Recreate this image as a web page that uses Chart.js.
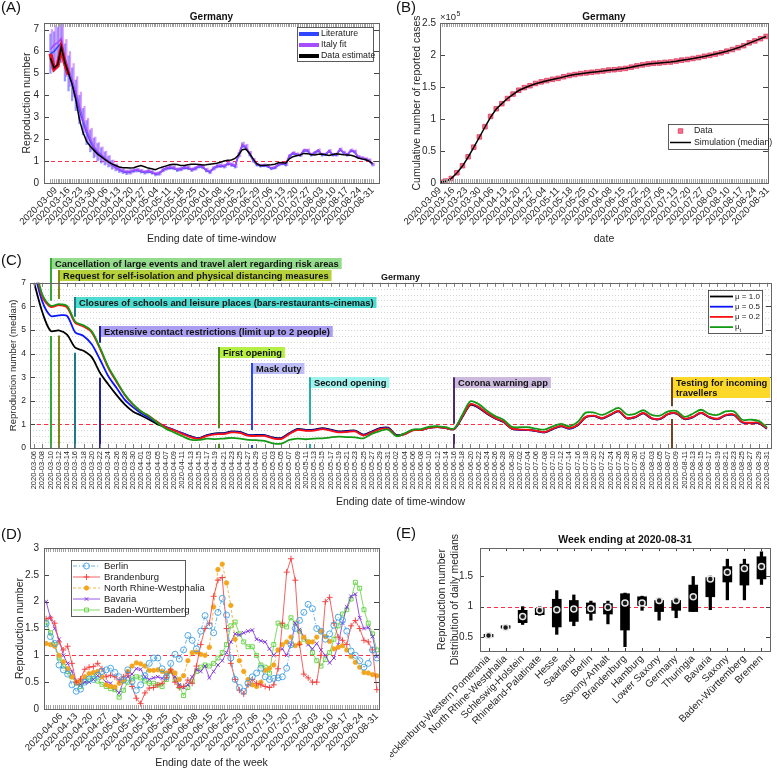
<!DOCTYPE html>
<html>
<head>
<meta charset="utf-8">
<script src="https://cdn.jsdelivr.net/npm/chart.js@4.4.1/dist/chart.umd.min.js"></script>
<style>
  body { margin: 0; background: #fff; }
  #page { position: relative; width: 777px; height: 769px; overflow: hidden; font-family: "Liberation Sans", Arial, sans-serif; }
  canvas { position: absolute; }
  .tag { position: absolute; font-size: 15px; color: #111; }
</style>
</head>
<body>
<div id="page">
  <canvas id="chartA" width="390" height="250" style="left:0;top:0"></canvas>
  <canvas id="chartB" width="387" height="250" style="left:390px;top:0"></canvas>
  <canvas id="chartC" width="777" height="262" style="left:0;top:250px"></canvas>
  <canvas id="chartD" width="390" height="257" style="left:0;top:512px"></canvas>
  <canvas id="chartE" width="387" height="257" style="left:390px;top:512px"></canvas>
  <div class="tag" style="left:1px;top:-2px">(A)</div>
  <div class="tag" style="left:396px;top:-2px">(B)</div>
  <div class="tag" style="left:1px;top:251px">(C)</div>
  <div class="tag" style="left:1px;top:525px">(D)</div>
  <div class="tag" style="left:396px;top:524px">(E)</div>
</div>
<script>
// ---- data ----
const windowDates = ['2020-03-06','2020-03-08','2020-03-10','2020-03-12','2020-03-14','2020-03-16','2020-03-18','2020-03-20','2020-03-22','2020-03-24','2020-03-26','2020-03-28','2020-03-30',
  '2020-04-01','2020-04-03','2020-04-05','2020-04-07','2020-04-09','2020-04-11','2020-04-13','2020-04-15','2020-04-17','2020-04-19','2020-04-21','2020-04-23','2020-04-25','2020-04-27','2020-04-29',
  '2020-05-01','2020-05-03','2020-05-05','2020-05-07','2020-05-09','2020-05-11','2020-05-13','2020-05-15','2020-05-17','2020-05-19','2020-05-21','2020-05-23','2020-05-25','2020-05-27','2020-05-29','2020-05-31',
  '2020-06-02','2020-06-04','2020-06-06','2020-06-08','2020-06-10','2020-06-12','2020-06-14','2020-06-16','2020-06-18','2020-06-20','2020-06-22','2020-06-24','2020-06-26','2020-06-28','2020-06-30',
  '2020-07-02','2020-07-04','2020-07-06','2020-07-08','2020-07-10','2020-07-12','2020-07-14','2020-07-16','2020-07-18','2020-07-20','2020-07-22','2020-07-24','2020-07-26','2020-07-28','2020-07-30',
  '2020-08-01','2020-08-03','2020-08-05','2020-08-07','2020-08-09','2020-08-11','2020-08-13','2020-08-15','2020-08-17','2020-08-19','2020-08-21','2020-08-23','2020-08-25','2020-08-27','2020-08-29','2020-08-31'];

const weekTicks = ['2020-03-09','2020-03-16','2020-03-23','2020-03-30','2020-04-06','2020-04-13','2020-04-20','2020-04-27','2020-05-04','2020-05-11','2020-05-18','2020-05-25','2020-06-01',
  '2020-06-08','2020-06-15','2020-06-22','2020-06-29','2020-07-06','2020-07-13','2020-07-20','2020-07-27','2020-08-03','2020-08-10','2020-08-17','2020-08-24','2020-08-31'];
const dWeekTicks = weekTicks.slice(4);

// (A) reproduction number, Germany
const aEstimate = [5.7,5.25,5.4,6.2,5.5,5.0,4.5,3.8,2.9,2.3,
  1.9,1.68,1.5,1.32,1.2,1.08,0.96,0.87,0.8,0.73,
  0.7,0.7,0.69,0.7,0.75,0.8,0.74,0.68,0.65,0.61,
  0.68,0.73,0.78,0.83,0.86,0.84,0.8,0.8,0.83,0.85,
  0.86,0.84,0.82,0.83,0.86,0.88,0.9,0.95,1.0,1.04,
  1.05,1.12,1.28,1.52,1.55,1.35,1.1,0.88,0.8,0.8,
  0.82,0.83,0.86,0.92,0.94,0.9,1.1,1.2,1.24,1.28,
  1.35,1.34,1.3,1.28,1.31,1.32,1.29,1.26,1.3,1.33,
  1.31,1.29,1.28,1.27,1.22,1.14,1.1,1.07,1.0,0.9];
const aEstimateBand = [5.9,5.2,5.35,6.15,5.45,4.95];
const aItalyFit = [6.1,6.3,6.4,6.6,5.7,5.2,4.7,4.15,3.5,2.9,
  2.4,2.0,1.65,1.45,1.3,1.15,1.0,0.85,0.72,0.62,
  0.55,0.5,0.52,0.58,0.6,0.55,0.5,0.55,0.5,0.42,
  0.45,0.6,0.68,0.72,0.7,0.62,0.65,0.72,0.7,0.62,
  0.68,0.78,0.75,0.6,0.52,0.68,0.78,0.8,0.78,0.9,
  0.85,0.78,1.3,1.75,1.65,1.35,1.05,0.85,0.8,0.82,
  0.78,0.68,0.72,0.85,0.9,0.85,1.25,1.38,1.32,1.28,
  1.5,1.5,1.3,1.4,1.5,1.3,1.32,1.48,1.3,1.3,
  1.55,1.4,1.3,1.5,1.45,1.2,1.15,1.1,1.05,0.85];
const aLiterature = [5.9,6.0,6.2,6.4,5.5,5.0,4.5,4.0,3.35,2.8,
  2.3,1.92,1.6,1.4,1.26,1.12,0.98,0.83,0.7,0.6,
  0.53,0.48,0.5,0.56,0.58,0.53,0.48,0.53,0.48,0.4,
  0.43,0.58,0.66,0.7,0.68,0.6,0.63,0.7,0.68,0.6,
  0.66,0.76,0.73,0.58,0.5,0.66,0.76,0.78,0.76,0.88,
  0.83,0.76,1.28,1.72,1.62,1.33,1.03,0.83,0.78,0.8,
  0.76,0.66,0.7,0.83,0.88,0.83,1.22,1.35,1.3,1.26,
  1.47,1.47,1.28,1.38,1.47,1.28,1.3,1.45,1.28,1.28,
  1.52,1.38,1.28,1.47,1.42,1.18,1.13,1.08,1.03,0.83];
const aSpread = [0.9,0.9,0.9,0.9,0.85,0.8,0.75,0.7,0.65,0.6,
  0.55,0.5,0.45,0.4,0.35,0.3,0.25,0.2,0.15,0.12,
  0.1,0.1,0.1,0.08,0.08,0.08,0.08,0.08,0.08,0.08,
  0.08,0.08,0.08,0.08,0.08,0.08,0.08,0.08,0.08,0.08,
  0.08,0.08,0.08,0.08,0.08,0.08,0.08,0.08,0.08,0.08,
  0.08,0.08,0.1,0.12,0.12,0.1,0.08,0.06,0.06,0.06,
  0.06,0.06,0.06,0.06,0.06,0.06,0.06,0.06,0.06,0.06,
  0.06,0.06,0.06,0.06,0.06,0.06,0.06,0.06,0.06,0.06,
  0.06,0.06,0.06,0.06,0.06,0.06,0.06,0.06,0.06,0.06];
const aYTicks = [0,1,2,3,4,5,6,7];

// (B) cumulative reported cases
const bDates = ['2020-03-09','2020-03-12','2020-03-15','2020-03-18','2020-03-21','2020-03-24','2020-03-27','2020-03-30','2020-04-02','2020-04-05',
  '2020-04-08','2020-04-11','2020-04-14','2020-04-17','2020-04-20','2020-04-23','2020-04-26','2020-04-29','2020-05-02','2020-05-05',
  '2020-05-08','2020-05-11','2020-05-14','2020-05-17','2020-05-20','2020-05-23','2020-05-26','2020-05-29','2020-06-01','2020-06-04',
  '2020-06-07','2020-06-10','2020-06-13','2020-06-16','2020-06-19','2020-06-22','2020-06-25','2020-06-28','2020-07-01','2020-07-04',
  '2020-07-07','2020-07-10','2020-07-13','2020-07-16','2020-07-19','2020-07-22','2020-07-25','2020-07-28','2020-07-31','2020-08-03',
  '2020-08-06','2020-08-09','2020-08-12','2020-08-15','2020-08-18','2020-08-21','2020-08-24','2020-08-27','2020-08-30'];
const bCases = [1200,3000,7000,16000,27000,41000,56000,72000,88000,104000,
  116000,124000,132000,139000,145000,149000,152000,155500,158000,160000,
  162000,163500,166000,168000,169500,171000,172000,173000,174000,175000,
  176500,177000,178000,179000,181000,183000,184500,186000,187000,187500,
  188500,189000,190500,192000,193000,194500,196000,198000,199500,201500,
  203500,206000,208500,211500,214500,219000,222000,225500,229000];
const bSimulation = [1000,2800,6800,15500,26500,40500,55500,71500,87500,103000,
  115500,124000,132000,138500,144500,148500,152000,155000,157500,159800,
  161800,163500,165800,167800,169400,170800,171900,173000,174000,175000,
  176200,177000,178000,179200,181000,182900,184400,185800,186800,187600,
  188400,189200,190400,191800,193000,194400,196000,197800,199500,201400,
  203500,205800,208400,211200,214600,218600,222000,225600,229000];
const bYTicks = [0,50000,100000,150000,200000,250000];

// (C) median reproduction number for different mu
const cMu10 = [7.0,5.75,4.96,4.98,4.8,4.25,4.12,3.85,3.19,2.7,
  2.25,1.85,1.55,1.38,1.2,1.0,0.88,0.75,0.62,0.5,
  0.42,0.55,0.62,0.63,0.7,0.68,0.56,0.55,0.55,0.45,
  0.42,0.63,0.81,0.77,0.78,0.84,0.78,0.7,0.72,0.74,
  0.57,0.7,0.84,0.86,0.55,0.6,0.77,0.77,0.86,0.9,
  0.85,0.8,1.3,1.82,1.7,1.45,1.25,1.1,0.82,0.77,
  0.76,0.72,0.66,0.8,0.92,0.82,0.95,1.3,1.35,1.25,
  1.4,1.55,1.25,1.3,1.47,1.25,1.22,1.43,1.46,1.22,
  1.3,1.48,1.3,1.22,1.38,1.4,1.08,1.05,1.05,0.82];
const cMu05 = [7.5,6.2,5.6,5.62,5.6,4.9,4.75,4.4,3.75,3.05,
  2.55,2.05,1.73,1.47,1.27,1.07,0.9,0.77,0.63,0.48,
  0.41,0.53,0.6,0.61,0.68,0.66,0.54,0.53,0.53,0.43,
  0.4,0.61,0.79,0.75,0.76,0.82,0.76,0.68,0.7,0.72,
  0.55,0.68,0.82,0.84,0.53,0.59,0.76,0.76,0.85,0.89,
  0.84,0.8,1.32,1.85,1.72,1.47,1.26,1.11,0.82,0.77,
  0.76,0.72,0.66,0.81,0.93,0.82,0.96,1.31,1.36,1.26,
  1.41,1.56,1.26,1.31,1.48,1.26,1.23,1.44,1.47,1.23,
  1.31,1.49,1.31,1.23,1.39,1.41,1.09,1.06,1.06,0.83];
const cMu02 = [7.8,6.4,5.98,6.05,5.95,5.3,5.15,4.9,4.2,3.4,
  2.8,2.25,1.84,1.55,1.34,1.1,0.88,0.75,0.6,0.46,
  0.39,0.51,0.58,0.59,0.66,0.64,0.52,0.51,0.51,0.41,
  0.38,0.59,0.77,0.73,0.74,0.8,0.74,0.66,0.68,0.7,
  0.53,0.66,0.8,0.82,0.52,0.58,0.75,0.76,0.85,0.89,
  0.84,0.8,1.33,1.86,1.74,1.48,1.27,1.12,0.83,0.78,
  0.77,0.73,0.67,0.82,0.94,0.84,0.97,1.32,1.37,1.27,
  1.42,1.57,1.27,1.32,1.49,1.27,1.24,1.45,1.48,1.24,
  1.32,1.5,1.32,1.24,1.4,1.42,1.1,1.07,1.07,0.84];
const cMuT = [7.9,6.5,6.03,6.1,6.02,5.35,5.2,4.95,4.25,3.45,
  2.85,2.28,1.86,1.55,1.34,1.06,0.82,0.66,0.5,0.36,
  0.34,0.4,0.38,0.4,0.43,0.4,0.34,0.33,0.3,0.2,
  0.18,0.34,0.4,0.37,0.4,0.41,0.45,0.48,0.46,0.45,
  0.41,0.6,0.72,0.78,0.5,0.62,0.78,0.8,0.9,0.92,
  0.88,0.82,1.4,1.98,1.86,1.58,1.35,1.2,0.9,0.88,
  0.88,0.82,0.78,0.92,1.02,0.92,1.1,1.5,1.5,1.4,
  1.55,1.7,1.42,1.45,1.6,1.4,1.37,1.55,1.57,1.32,
  1.45,1.62,1.45,1.4,1.55,1.55,1.2,1.2,1.15,0.88];
const cYTicks = [0,1,2,3,4,5,6,7];

const eventDates = ['2020-03-10','2020-03-12','2020-03-16','2020-03-22','2020-04-20','2020-04-28','2020-05-12','2020-06-16','2020-08-08'];
const eventLabels = [
  ['Cancellation of large events and travel alert regarding risk areas'],
  ['Request for self-isolation and physical distancing measures'],
  ['Closures of schools and leisure places (bars-restaurants-cinemas)'],
  ['Extensive contact restrictions (limit up to 2 people)'],
  ['First opening'],
  ['Mask duty'],
  ['Second opening'],
  ['Corona warning app'],
  ['Testing for incoming', 'travellers']
];
// label placement (y value of the box top) and colours
const eventLevels = [8.05, 7.54, 6.4, 5.17, 4.28, 3.6, 3.0, 3.0, 3.0];
const eventBoxColors = ['#93dc8c','#b6d23a','#4cdcd2','#aa9ef2','#b6ef44','#bcbcf6','#9ff2ee','#cbb9de','#fcd928'];
const eventLineColors = ['#35a935','#7e8a14','#1e7b82','#23239c','#4c8a1c','#2346ff','#27aea6','#4b2b6e','#6b4525'];

// (D) weekly reproduction number by state
const dDates = ['2020-03-30','2020-04-01','2020-04-03','2020-04-05','2020-04-07','2020-04-09','2020-04-11','2020-04-13','2020-04-15','2020-04-17',
  '2020-04-19','2020-04-21','2020-04-23','2020-04-25','2020-04-27','2020-04-29','2020-05-01','2020-05-03','2020-05-05','2020-05-07',
  '2020-05-09','2020-05-11','2020-05-13','2020-05-15','2020-05-17','2020-05-19','2020-05-21','2020-05-23','2020-05-25','2020-05-27',
  '2020-05-29','2020-05-31','2020-06-02','2020-06-04','2020-06-06','2020-06-08','2020-06-10','2020-06-12','2020-06-14','2020-06-16',
  '2020-06-18','2020-06-20','2020-06-22','2020-06-24','2020-06-26','2020-06-28','2020-06-30','2020-07-02','2020-07-04','2020-07-06',
  '2020-07-08','2020-07-10','2020-07-12','2020-07-14','2020-07-16','2020-07-18','2020-07-20','2020-07-22','2020-07-24','2020-07-26',
  '2020-07-28','2020-07-30','2020-08-01','2020-08-03','2020-08-05','2020-08-07','2020-08-09','2020-08-11','2020-08-13','2020-08-15',
  '2020-08-17','2020-08-19','2020-08-21','2020-08-23','2020-08-25','2020-08-27','2020-08-29','2020-08-31'];
const dBerlin = [1.59,1.35,1.22,0.82,0.73,0.65,0.45,0.33,0.37,0.5,
  0.56,0.55,0.63,0.7,0.73,0.76,0.68,0.6,0.54,0.73,
  0.51,0.35,0.45,0.62,0.85,0.95,0.95,0.75,0.6,0.85,
  1.02,0.93,1.1,1.37,1.28,1.12,1.45,1.74,1.55,1.42,
  1.8,2.06,1.75,0.95,0.55,0.4,0.33,0.48,0.6,0.67,
  0.76,0.6,0.55,0.57,0.58,0.6,0.76,1.2,1.5,1.65,
  1.8,1.95,1.87,1.5,1.45,1.3,1.4,1.56,1.71,1.65,
  1.45,1.08,1.0,0.9,0.78,0.85,1.1,0.95];
const dBrandenburg = [1.68,1.7,1.6,1.25,1.1,1.17,0.85,0.5,0.56,0.74,
  0.78,0.79,0.85,0.75,0.6,0.63,0.6,0.54,0.6,0.67,
  0.42,0.2,0.1,0.3,0.39,0.4,0.45,0.48,0.58,0.73,
  0.5,0.4,0.42,0.54,0.48,0.8,1.2,1.5,1.6,2.1,
  2.4,2.45,1.5,0.85,0.55,0.35,0.28,0.45,0.55,0.48,
  0.45,0.42,0.4,0.45,0.75,1.6,2.55,2.8,2.4,1.2,
  0.65,0.58,0.5,0.5,1.0,2.0,2.08,1.6,1.34,1.28,
  1.2,1.55,1.65,1.5,1.28,1.25,1.1,0.36];
const dNRW = [1.22,1.2,1.17,1.0,0.88,0.75,0.6,0.5,0.52,0.6,
  0.66,0.68,0.7,0.6,0.45,0.42,0.41,0.48,0.52,0.7,
  0.8,0.86,0.84,0.8,0.72,0.72,0.73,0.7,0.67,0.72,
  0.67,0.55,0.62,0.9,1.05,1.06,1.02,1.0,1.15,1.9,
  2.6,2.7,2.35,1.93,1.3,0.9,0.7,0.55,0.45,0.42,
  0.5,0.72,0.76,0.82,1.1,1.2,1.25,1.34,1.18,1.22,
  1.34,1.25,1.25,1.34,1.45,1.35,1.26,1.12,1.15,1.18,
  1.1,0.98,0.87,0.78,0.68,0.67,0.64,0.62];
const dBavaria = [2.0,1.7,1.5,1.3,1.0,0.85,0.7,0.48,0.46,0.5,
  0.5,0.55,0.62,0.58,0.5,0.48,0.38,0.3,0.52,0.6,
  0.65,0.75,0.74,0.6,0.55,0.58,0.6,0.57,0.65,0.7,
  0.6,0.45,0.4,0.45,0.6,0.73,0.7,0.8,0.58,0.7,
  0.82,0.9,1.05,1.25,1.4,1.38,1.42,1.45,1.47,1.3,
  1.27,1.25,1.12,1.0,1.1,1.12,1.0,1.2,1.6,1.48,
  1.35,1.2,1.12,1.22,1.1,1.0,0.86,0.95,1.2,1.6,
  1.9,2.1,2.14,1.7,1.5,1.52,1.35,0.98];
const dBadenWuerttemberg = [1.62,1.42,1.2,0.95,0.8,0.7,0.6,0.48,0.42,0.52,
  0.54,0.6,0.52,0.46,0.42,0.38,0.36,0.22,0.35,0.5,
  0.56,0.6,0.58,0.52,0.48,0.48,0.45,0.42,0.55,0.7,
  0.55,0.42,0.25,0.4,0.52,0.7,0.78,0.82,0.8,0.85,
  0.95,1.05,1.2,1.55,1.62,1.4,1.25,1.16,1.16,1.0,
  0.82,0.78,0.67,1.2,1.6,1.56,1.53,1.7,1.6,1.45,
  1.3,1.25,1.05,0.9,0.8,0.92,1.05,1.3,1.55,1.77,
  1.85,2.05,2.36,2.25,1.85,1.6,1.4,1.1];
const dYTicks = [0,0.5,1,1.5,2,2.5,3];

// (E) distribution of daily medians, week ending 2020-08-31
const eStates = ['Mecklenburg-Western Pomerania','North Rhine-Westphalia','Schleswig-Holstein','Rhineland-Palatinate','Hesse','Saarland','Berlin','Saxony-Anhalt',
  'Brandenburg','Hamburg','Lower Saxony','Germany','Thuringia','Bavaria','Saxony','Baden-Württemberg','Bremen'];
const eMin = [0.50,0.64,0.71,0.86,0.55,0.69,0.78,0.72,0.35,0.94,0.78,0.82,0.92,0.95,1.11,1.11,1.36];
const eQ1  = [0.51,0.65,0.74,0.87,0.67,0.76,0.89,0.88,0.62,1.02,0.92,0.94,0.92,1.16,1.40,1.35,1.45];
const eMed = [0.53,0.66,0.84,0.94,0.95,0.96,0.97,0.99,1.06,1.06,1.10,1.10,1.16,1.45,1.56,1.62,1.65];
const eQ3  = [0.55,0.69,0.94,0.97,1.12,1.10,1.06,1.05,1.21,1.16,1.10,1.10,1.35,1.47,1.65,1.69,1.81];
const eMax = [0.55,0.70,1.00,1.00,1.26,1.19,1.09,1.09,1.22,1.17,1.11,1.11,1.49,1.50,1.77,1.77,1.89];
const eYTicks = [0.5,1,1.5];

// ---- helpers ----
const toDay = s => {
  const p = s.split('-').map(Number);
  return (Date.UTC(p[0], p[1] - 1, p[2]) - Date.UTC(2020, 0, 1)) / 864e5;
};
const pts = (dates, vals) => vals.map((v, i) => ({ x: toDay(dates[i]), y: v }));
const fixTicks = list => s => { s.ticks = list.map(v => ({ value: v })); };

Chart.defaults.font.family = '"Liberation Sans", Arial, sans-serif';
Chart.defaults.color = '#262626';
Chart.defaults.animation = false;
Chart.defaults.responsive = false;
Chart.defaults.plugins.legend.display = false;
Chart.defaults.plugins.tooltip.enabled = false;

// box frame with inward ticks, matlab style
const framePlugin = {
  id: 'frame',
  beforeDatasetsDraw(chart, args, o) {
    if (!o.gridStep) return;
    const { ctx, chartArea: a, scales: { y } } = chart;
    ctx.save();
    ctx.strokeStyle = '#d4d4d4';
    ctx.lineWidth = 1;
    ctx.setLineDash([1, 2]);
    ctx.beginPath();
    for (let v = y.min + o.gridStep; v < y.max - 1e-6; v += o.gridStep) {
      const p = Math.round(y.getPixelForValue(v)) + 0.5;
      ctx.moveTo(a.left, p); ctx.lineTo(a.right, p);
    }
    ctx.stroke();
    ctx.restore();
  },
  afterDatasetsDraw(chart, args, o) {
    if (!o.len) return;
    const { ctx, chartArea: a, scales: { x, y } } = chart;
    ctx.save();
    ctx.lineWidth = 1;
    let xs = [];
    if (o.xStep) {
      for (let v = Math.ceil(x.min); v <= x.max; v += o.xStep) xs.push(x.getPixelForValue(v));
    } else {
      xs = x.ticks.map((t, i) => x.getPixelForTick(i));
    }
    ctx.strokeStyle = o.xColor;
    ctx.beginPath();
    xs.forEach(p => {
      p = Math.round(p) + 0.5;
      ctx.moveTo(p, a.bottom); ctx.lineTo(p, a.bottom - o.len);
      ctx.moveTo(p, a.top); ctx.lineTo(p, a.top + o.len);
    });
    ctx.stroke();
    ctx.strokeStyle = '#444';
    ctx.beginPath();
    y.ticks.forEach((t, i) => {
      const p = Math.round(y.getPixelForTick(i)) + 0.5;
      ctx.moveTo(a.left, p); ctx.lineTo(a.left + o.len + 1, p);
      ctx.moveTo(a.right, p); ctx.lineTo(a.right - o.len - 1, p);
    });
    ctx.stroke();
    ctx.strokeStyle = '#666';
    ctx.strokeRect(Math.round(a.left) + 0.5, Math.round(a.top) + 0.5, Math.round(a.width), Math.round(a.height));
    ctx.restore();
  }
};

// dashed red line at R = 1
const refLinePlugin = {
  id: 'refLine',
  beforeDatasetsDraw(chart, args, o) {
    if (o.value == null) return;
    const { ctx, chartArea: a, scales: { y } } = chart;
    const p = Math.round(y.getPixelForValue(o.value)) + 0.5;
    ctx.save();
    ctx.strokeStyle = '#ff2d45';
    ctx.lineWidth = 1.2;
    ctx.setLineDash([4, 3]);
    ctx.beginPath(); ctx.moveTo(a.left, p); ctx.lineTo(a.right, p); ctx.stroke();
    ctx.restore();
  }
};

// legend box drawn inside the plot
const boxLegend = {
  id: 'boxLegend',
  afterDatasetsDraw(chart, args, o) {
    if (!o.items) return;
    const ctx = chart.ctx;
    ctx.save();
    ctx.fillStyle = '#fff';
    ctx.fillRect(o.x, o.y, o.w, o.h);
    ctx.strokeStyle = '#333';
    ctx.lineWidth = 0.8;
    ctx.strokeRect(o.x + 0.5, o.y + 0.5, o.w, o.h);
    ctx.font = o.font;
    ctx.textBaseline = 'middle';
    ctx.textAlign = 'left';
    o.items.forEach((it, k) => {
      const ds = chart.data.datasets[it.ds];
      const cy = o.y + o.top + k * o.rowH;
      const x0 = o.x + o.padX, x1 = x0 + o.lineLen;
      if (!it.noLine) {
        ctx.strokeStyle = ds.borderColor;
        ctx.lineWidth = it.lw || ds.borderWidth;
        ctx.setLineDash(ds.borderDash || []);
        ctx.beginPath(); ctx.moveTo(x0, cy); ctx.lineTo(x1, cy); ctx.stroke();
        ctx.setLineDash([]);
      }
      if (it.marker && Chart.helpers && Chart.helpers.drawPoint) {
        ctx.fillStyle = ds.pointBackgroundColor || 'rgba(0,0,0,0)';
        ctx.strokeStyle = ds.pointBorderColor || ds.borderColor;
        ctx.lineWidth = ds.pointBorderWidth || 1;
        Chart.helpers.drawPoint(ctx, { pointStyle: ds.pointStyle, radius: ds.pointRadius, borderWidth: ctx.lineWidth, rotation: 0 }, (x0 + x1) / 2, cy);
      }
      ctx.fillStyle = '#1a1a1a';
      const parts = ds.label.split('_');
      ctx.fillText(parts[0], x1 + o.gap, cy);
      if (parts[1]) {
        const w = ctx.measureText(parts[0]).width;
        ctx.save();
        ctx.font = o.subFont;
        ctx.fillText(parts[1], x1 + o.gap + w, cy + 3);
        ctx.restore();
      }
    });
    ctx.restore();
  }
};

// exponent note (x10^5) above the y axis
const expNote = {
  id: 'expNote',
  afterDraw(chart, args, o) {
    if (!o.base) return;
    const { ctx, chartArea: a } = chart;
    ctx.save();
    ctx.fillStyle = '#262626';
    ctx.font = '9.5px "Liberation Sans", Arial, sans-serif';
    ctx.textBaseline = 'alphabetic';
    ctx.fillText(o.base, a.left, a.top - 3);
    const w = ctx.measureText(o.base).width;
    ctx.font = '7px "Liberation Sans", Arial, sans-serif';
    ctx.fillText(o.exp, a.left + w + 0.5, a.top - 7);
    ctx.restore();
  }
};

// intervention markers for panel C
const eventsPlugin = {
  id: 'events',
  beforeDatasetsDraw(chart, args, o) {
    if (!o.items) return;
    const { ctx, chartArea: a, scales: { x, y } } = chart;
    const series = chart.data.datasets.map(d => d.data);
    ctx.save();
    ctx.lineWidth = 2;
    o.items.forEach(ev => {
      const px = Math.round(x.getPixelForValue(ev.pos));
      const i0 = Math.floor(ev.pos), i1 = Math.min(i0 + 1, series[0].length - 1), f = ev.pos - i0;
      const vals = series.map(s => s[i0] + (s[i1] - s[i0]) * f);
      const hi = y.getPixelForValue(Math.min(Math.max(...vals), y.max)) - 5;
      const lo = y.getPixelForValue(Math.min(...vals)) + 5;
      const top = y.getPixelForValue(ev.level);
      ctx.strokeStyle = ev.lineColor;
      ctx.beginPath();
      if (hi > top) { ctx.moveTo(px, top); ctx.lineTo(px, hi); }
      ctx.moveTo(px, lo); ctx.lineTo(px, a.bottom);
      ctx.stroke();
    });
    ctx.restore();
  },
  afterDatasetsDraw(chart, args, o) {
    if (!o.items) return;
    const { ctx, scales: { x, y } } = chart;
    ctx.save();
    ctx.font = o.font;
    ctx.textBaseline = 'middle';
    o.items.forEach(ev => {
      const px = Math.round(x.getPixelForValue(ev.pos));
      const top = Math.round(y.getPixelForValue(ev.level));
      const tw = Math.max(...ev.text.map(t => ctx.measureText(t).width));
      ctx.fillStyle = ev.boxColor;
      ctx.fillRect(px + 1, top, tw + 6, o.lineH * ev.text.length + 1);
      ctx.fillStyle = '#111';
      ev.text.forEach((t, k) => ctx.fillText(t, px + 4, top + o.lineH * k + o.lineH / 2 + 1));
    });
    ctx.restore();
  }
};

Chart.register(framePlugin, refLinePlugin, boxLegend, expNote, eventsPlugin);

const noGrid = { display: false, drawTicks: false };
const noBorder = { display: false };

// ---- (A) ----
new Chart(document.getElementById('chartA'), {
  type: 'line',
  data: {
    datasets: [
      { label: 'Literature', data: pts(windowDates, aLiterature), borderColor: '#2f45ff', borderWidth: 1.6, pointRadius: 0, order: 3 },
      { label: 'Italy fit', data: pts(windowDates, aItalyFit), borderColor: '#a64dff', borderWidth: 1.6, pointRadius: 0, order: 2 },
      { label: 'Data estimate', data: pts(windowDates, aEstimate), borderColor: '#000', borderWidth: 1.5, pointRadius: 0, order: 0 },
      { label: 'Data estimate band', data: pts(windowDates, aEstimateBand), borderColor: '#e3142a', borderWidth: 4, pointRadius: 0, order: 1 },
      { type: 'bar', label: 'Literature range', data: aLiterature.map((v, i) => ({ x: toDay(windowDates[i]), y: [v - aSpread[i], v + aSpread[i]] })),
        backgroundColor: 'rgba(60,70,255,0.55)', barThickness: 1.6, grouped: false, order: 5 },
      { type: 'bar', label: 'Italy fit range', data: aItalyFit.map((v, i) => ({ x: toDay(windowDates[i]) + 0.8, y: [v - aSpread[i], v + aSpread[i]] })),
        backgroundColor: 'rgba(185,80,255,0.55)', barThickness: 1.6, grouped: false, order: 4 }
    ]
  },
  options: {
    layout: { padding: { left: 0, right: 11, top: 0, bottom: 0 } },
    plugins: {
      title: { display: true, text: 'Germany', fullSize: false, font: { size: 10, weight: 'bold' }, padding: { top: 11, bottom: 0 }, color: '#111' },
      frame: { len: 4, xStep: 1, xColor: '#a0a0a0' },
      refLine: { value: 1 },
      boxLegend: { x: 297, y: 27, w: 76, h: 34, top: 7, rowH: 11, padX: 2, lineLen: 20, gap: 2, font: '8.8px "Liberation Sans", Arial, sans-serif',
        items: [{ ds: 0, lw: 4 }, { ds: 1, lw: 4 }, { ds: 2, lw: 4 }] }
    },
    scales: {
      x: {
        type: 'linear', min: toDay('2020-03-06'), max: toDay('2020-08-31'),
        afterBuildTicks: fixTicks(weekTicks.map(toDay)),
        afterFit: s => { s.height = 67; s.paddingLeft = 0; s.paddingRight = 0; },
        ticks: { autoSkip: false, minRotation: 45, maxRotation: 45, padding: 2, font: { size: 9.5 }, callback: (v, i) => weekTicks[i] },
        grid: noGrid, border: noBorder,
        title: { display: true, text: 'Ending date of time-window', font: { size: 10.5 }, padding: { top: 0, bottom: 5 } }
      },
      y: {
        min: 0, max: 7.3,
        afterBuildTicks: fixTicks(aYTicks),
        afterFit: s => { s.width = 44; },
        ticks: { padding: 5, font: { size: 10 }, callback: v => String(v) },
        grid: noGrid, border: noBorder,
        title: { display: true, text: 'Reproduction number', font: { size: 10.5 }, padding: { top: 21, bottom: 0 } }
      }
    }
  }
});

// ---- (B) ----
new Chart(document.getElementById('chartB'), {
  type: 'line',
  data: {
    datasets: [
      { label: 'Data', data: pts(bDates, bCases), showLine: false, pointStyle: 'rect', pointRadius: 3.2,
        pointBackgroundColor: '#f4738e', pointBorderColor: '#e2365a', pointBorderWidth: 0.8, borderColor: '#e2365a', order: 1 },
      { label: 'Simulation (median)', data: pts(bDates, bSimulation), borderColor: '#000', borderWidth: 1.5, pointRadius: 0, order: 0 }
    ]
  },
  options: {
    layout: { padding: { left: 0, right: 9, top: 0, bottom: 0 } },
    plugins: {
      title: { display: true, text: 'Germany', fullSize: false, font: { size: 10, weight: 'bold' }, padding: { top: 11, bottom: 0 }, color: '#111' },
      frame: { len: 4, xStep: 1, xColor: '#a0a0a0' },
      expNote: { base: '×10', exp: '5' },
      boxLegend: { x: 278, y: 124, w: 100, h: 25, top: 7, rowH: 11.5, padX: 2, lineLen: 21, gap: 3, font: '8.8px "Liberation Sans", Arial, sans-serif',
        items: [{ ds: 0, noLine: true, marker: true }, { ds: 1 }] }
    },
    scales: {
      x: {
        type: 'linear', min: toDay('2020-03-09'), max: toDay('2020-08-31'),
        afterBuildTicks: fixTicks(weekTicks.map(toDay)),
        afterFit: s => { s.height = 67; s.paddingLeft = 0; s.paddingRight = 0; },
        ticks: { autoSkip: false, minRotation: 45, maxRotation: 45, padding: 2, font: { size: 9.5 }, callback: (v, i) => weekTicks[i] },
        grid: noGrid, border: noBorder,
        title: { display: true, text: 'date', font: { size: 10.5 }, padding: { top: 0, bottom: 5 } }
      },
      y: {
        min: 0, max: 250000,
        afterBuildTicks: fixTicks(bYTicks),
        afterFit: s => { s.width = 50; },
        ticks: { padding: 4, font: { size: 10 }, callback: v => String(v / 100000) },
        grid: noGrid, border: noBorder,
        title: { display: true, text: 'Cumulative number of reported cases', font: { size: 10.5 }, padding: { top: 21, bottom: 0 } }
      }
    }
  }
});

// ---- (C) ----
const cStart = toDay(windowDates[0]);
new Chart(document.getElementById('chartC'), {
  type: 'line',
  data: {
    labels: windowDates,
    datasets: [
      { label: 'μ = 1.0', data: cMu10, borderColor: '#000', borderWidth: 1.8, pointRadius: 0, tension: 0.3, order: 3 },
      { label: 'μ = 0.5', data: cMu05, borderColor: '#0a14ff', borderWidth: 1.8, pointRadius: 0, tension: 0.3, order: 2 },
      { label: 'μ = 0.2', data: cMu02, borderColor: '#ff1010', borderWidth: 1.8, pointRadius: 0, tension: 0.3, order: 1 },
      { label: 'μ_t', data: cMuT, borderColor: '#159a15', borderWidth: 1.8, pointRadius: 0, tension: 0.3, order: 0 }
    ]
  },
  options: {
    layout: { padding: { left: 0, right: 6, top: 0, bottom: 0 } },
    plugins: {
      title: { display: true, text: 'Germany', fullSize: false, font: { size: 9, weight: 'bold' }, padding: { top: 22, bottom: 0 }, color: '#111' },
      frame: { len: 4, xColor: '#808080', gridStep: 0.25 },
      refLine: { value: 1 },
      boxLegend: { x: 708, y: 40, w: 54, h: 43, top: 6.5, rowH: 10.2, padX: 2, lineLen: 23, gap: 2, font: '8px "Liberation Sans", Arial, sans-serif',
        subFont: '6px "Liberation Sans", Arial, sans-serif', items: [{ ds: 0 }, { ds: 1 }, { ds: 2 }, { ds: 3 }] },
      events: {
        font: 'bold 9.3px "Liberation Sans", Arial, sans-serif', lineH: 10,
        items: eventDates.map((d, i) => ({ pos: (toDay(d) - cStart) / 2, text: eventLabels[i], level: eventLevels[i], boxColor: eventBoxColors[i], lineColor: eventLineColors[i] }))
      }
    },
    scales: {
      x: {
        offset: true,
        afterFit: s => { s.height = 64; s.paddingLeft = 0; s.paddingRight = 0; },
        ticks: { autoSkip: false, minRotation: 90, maxRotation: 90, padding: 3, font: { size: 7.5 } },
        grid: noGrid, border: noBorder,
        title: { display: true, text: 'Ending date of time-window', font: { size: 10.5 }, padding: { top: 0, bottom: 4 } }
      },
      y: {
        min: 0, max: 7,
        afterBuildTicks: fixTicks(cYTicks),
        afterFit: s => { s.width = 30; },
        ticks: { padding: 4, font: { size: 8.5 }, callback: v => String(v) },
        grid: noGrid, border: noBorder,
        title: { display: true, text: 'Reproduction number (median)', font: { size: 9.5 }, padding: { top: 8, bottom: 0 } }
      }
    }
  }
});

// ---- (D) ----
new Chart(document.getElementById('chartD'), {
  type: 'line',
  data: {
    datasets: [
      { label: 'Berlin', data: pts(dDates, dBerlin), borderColor: '#3d9fe3', borderWidth: 0.8, borderDash: [4, 2, 1, 2],
        pointStyle: 'circle', pointRadius: 3, pointBorderWidth: 0.9, pointBackgroundColor: 'rgba(0,0,0,0)', pointBorderColor: '#3d9fe3' },
      { label: 'Brandenburg', data: pts(dDates, dBrandenburg), borderColor: '#f23a3a', borderWidth: 0.8,
        pointStyle: 'cross', pointRadius: 3, pointBorderWidth: 0.9, pointBorderColor: '#f23a3a' },
      { label: 'North Rhine-Westphalia', data: pts(dDates, dNRW), borderColor: '#f3a51c', borderWidth: 0.8, borderDash: [3, 2],
        pointStyle: 'circle', pointRadius: 2.2, pointBorderWidth: 0.8, pointBackgroundColor: '#f3a51c', pointBorderColor: '#f3a51c' },
      { label: 'Bavaria', data: pts(dDates, dBavaria), borderColor: '#7b2ee0', borderWidth: 0.8,
        pointStyle: 'crossRot', pointRadius: 2.6, pointBorderWidth: 0.9, pointBorderColor: '#7b2ee0' },
      { label: 'Baden-Württemberg', data: pts(dDates, dBadenWuerttemberg), borderColor: '#5fd23c', borderWidth: 0.8,
        pointStyle: 'rect', pointRadius: 2.8, pointBorderWidth: 0.9, pointBackgroundColor: 'rgba(0,0,0,0)', pointBorderColor: '#5fd23c' }
    ]
  },
  options: {
    layout: { padding: { left: 0, right: 11, top: 36, bottom: 0 } },
    plugins: {
      frame: { len: 4, xStep: 1, xColor: '#a0a0a0' },
      refLine: { value: 1 },
      boxLegend: { x: 71, y: 48, w: 114, h: 56, top: 6, rowH: 11, padX: 2, lineLen: 27, gap: 4, font: '9.5px "Liberation Sans", Arial, sans-serif',
        items: [{ ds: 0, marker: true }, { ds: 1, marker: true }, { ds: 2, marker: true }, { ds: 3, marker: true }, { ds: 4, marker: true }] }
    },
    scales: {
      x: {
        type: 'linear', min: toDay('2020-03-29'), max: toDay('2020-09-01'),
        afterBuildTicks: fixTicks(dWeekTicks.map(toDay)),
        afterFit: s => { s.height = 60; s.paddingLeft = 0; s.paddingRight = 0; },
        ticks: { autoSkip: false, minRotation: 45, maxRotation: 45, padding: 2, font: { size: 9.5 }, callback: (v, i) => dWeekTicks[i] },
        grid: noGrid, border: noBorder,
        title: { display: true, text: 'Ending date of the week', font: { size: 10.5 }, padding: { top: 0, bottom: 0 } }
      },
      y: {
        min: 0, max: 3,
        afterBuildTicks: fixTicks(dYTicks),
        afterFit: s => { s.width = 44; },
        ticks: { padding: 5, font: { size: 10 }, callback: v => String(v) },
        grid: noGrid, border: noBorder,
        title: { display: true, text: 'Reproduction number', font: { size: 10.5 }, padding: { top: 14, bottom: 0 } }
      }
    }
  }
});

// ---- (E) ----
new Chart(document.getElementById('chartE'), {
  type: 'bar',
  data: {
    labels: eStates,
    datasets: [
      { type: 'line', label: 'Median', data: eMed, showLine: false, pointStyle: 'circle', pointRadius: 3,
        pointBackgroundColor: '#1a1a1a', pointBorderColor: '#e6e6e6', pointBorderWidth: 1.5, order: 0 },
      { label: 'Interquartile range', data: eQ1.map((v, i) => [v, eQ3[i]]), backgroundColor: '#000', barThickness: 9, grouped: false, order: 1 },
      { label: 'Range', data: eMin.map((v, i) => [v, eMax[i]]), backgroundColor: '#000', barThickness: 2.6, grouped: false, order: 2 }
    ]
  },
  options: {
    layout: { padding: { left: 0, right: 7, top: 0, bottom: 0 } },
    plugins: {
      title: { display: true, text: 'Week ending at 2020-08-31', fullSize: false, font: { size: 10.5, weight: 'bold' }, padding: { top: 22, bottom: 1.5 }, color: '#111' },
      frame: { len: 3, xColor: '#444' },
      refLine: { value: 1 }
    },
    scales: {
      x: {
        afterFit: s => { s.height = 118; s.paddingLeft = 0; s.paddingRight = 0; },
        ticks: { autoSkip: false, minRotation: 45, maxRotation: 45, padding: 2, font: { size: 10 } },
        grid: noGrid, border: noBorder
      },
      y: {
        min: 0.28, max: 1.95,
        afterBuildTicks: fixTicks(eYTicks),
        afterFit: s => { s.width = 90; },
        ticks: { padding: 7, font: { size: 10 }, callback: v => String(v) },
        grid: noGrid, border: noBorder,
        title: { display: true, text: ['Reproduction number', 'Distribution of daily medians'], font: { size: 10.5 }, padding: { top: 46, bottom: 0 } }
      }
    }
  }
});
</script>
</body>
</html>
